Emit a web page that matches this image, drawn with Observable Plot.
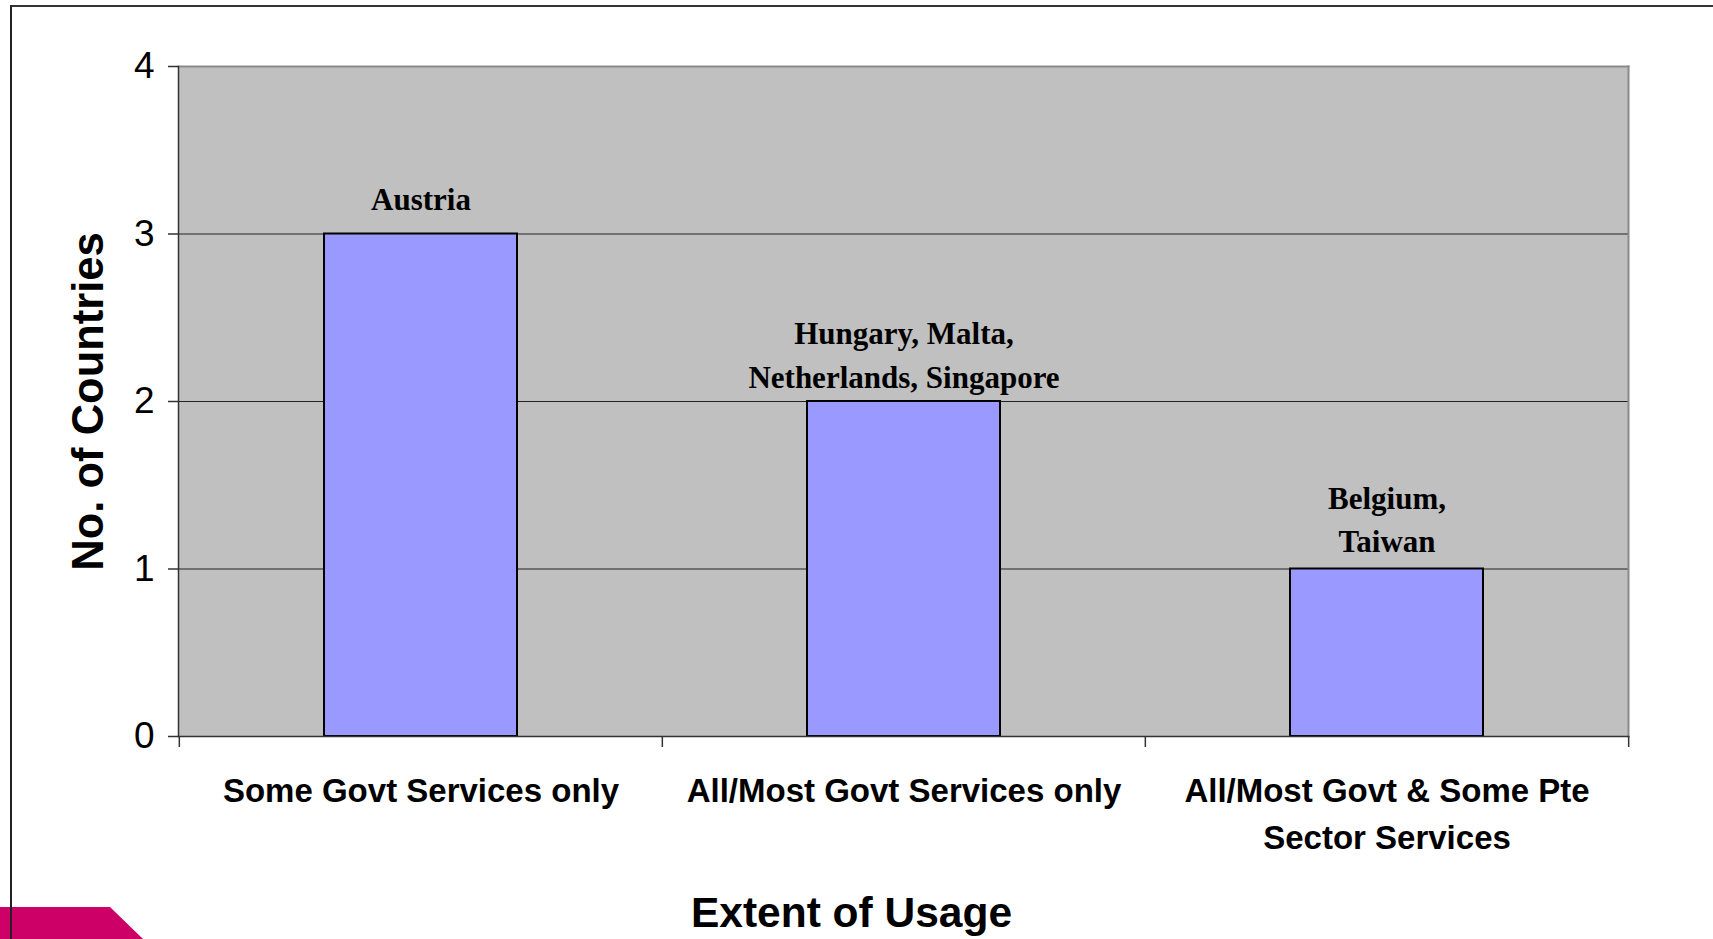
<!DOCTYPE html>
<html>
<head>
<meta charset="utf-8">
<script src="https://cdn.jsdelivr.net/npm/d3@7"></script>
<script src="https://cdn.jsdelivr.net/npm/@observablehq/plot@0.6"></script>
<style>
  html, body { margin: 0; padding: 0; background: #ffffff; overflow: hidden; }
  #wrap { position: relative; width: 1713px; height: 939px; overflow: hidden; }
  #chart { position: absolute; left: 0; top: 0; }
  #accent { position: absolute; left: 0; top: 907px; width: 143px; height: 32px; background: #CC0066;
            clip-path: polygon(0 0, 110px 0, 143px 32px, 0 32px); }
  #slideframe { position: absolute; left: 10px; top: 5px; width: 1760px; height: 1000px;
                border-top: 2px solid #333; border-left: 2px solid #222; }
</style>
</head>
<body>
<div id="wrap">
  <div id="chart"></div>
  <div id="accent"></div>
  <div id="slideframe"></div>
</div>
<script>
// ---- data ----
const categories = [
  "Some Govt Services only",
  "All/Most Govt Services only",
  "All/Most Govt & Some Pte Sector Services"
];
const tickLabels = [
  "Some Govt Services only",
  "All/Most Govt Services only",
  "All/Most Govt & Some Pte\nSector Services"
];
const counts = [3, 2, 1];
const countryLabels = [
  "Austria",
  "Hungary, Malta,\nNetherlands, Singapore",
  "Belgium,\nTaiwan"
];
const yTicks = [0, 1, 2, 3, 4];
const gridValues = [1, 2, 3];
const xTitle = "Extent of Usage";
const yTitle = "No. of Countries";

const data = categories.map((c, i) => ({category: c, count: counts[i], label: countryLabels[i]}));

// ---- layout ----
const W = 1713, H = 939;
const mL = 178, mT = 66, mR = 85, mB = 203;
const bw = (W - mL - mR) / categories.length;
const sans = "'Liberation Sans', Arial, Helvetica, sans-serif";
const serif = "'Liberation Serif', 'Times New Roman', Times, serif";

const labelText = (d, dy) => Plot.text([d], {
  x: "category", y: "count", text: "label",
  lineAnchor: "bottom", dy,
  fontFamily: serif, fontWeight: "bold", fontSize: 31, lineHeight: 1.39, fill: "#000"
});

const chart = Plot.plot({
  width: W, height: H,
  marginLeft: mL, marginTop: mT, marginRight: mR, marginBottom: mB,
  style: {fontFamily: sans, background: "transparent", color: "#000", overflow: "visible"},
  x: {domain: categories, padding: 0, axis: null},
  y: {domain: [0, 4], axis: null},
  marks: [
    Plot.frame({fill: "#C0C0C0", stroke: null}),
    Plot.ruleY(gridValues, {stroke: "#222", strokeWidth: 1}),
    Plot.barY(data, {x: "category", y: "count", fill: "#9999FF", stroke: "#000", strokeWidth: 2,
                     insetLeft: bw * 0.3, insetRight: bw * 0.3}),
    labelText(data[0], -24),
    labelText(data[1], -14),
    labelText(data[2], -17),
    Plot.frame({anchor: "top", stroke: "#8a8a8a", strokeWidth: 2}),
    Plot.frame({anchor: "right", stroke: "#8a8a8a", strokeWidth: 2}),
    Plot.frame({anchor: "left", stroke: "#333", strokeWidth: 1.5}),
    Plot.frame({anchor: "bottom", stroke: "#333", strokeWidth: 1.5}),
    // category boundary ticks below the x axis
    Plot.ruleX(categories, {x: d => d, dx: -bw / 2, stroke: "#333", strokeWidth: 1.5, insetTop: H - mT - mB, insetBottom: -11}),
    Plot.ruleX([categories[categories.length - 1]], {x: d => d, dx: bw / 2, stroke: "#333", strokeWidth: 1.5, insetTop: H - mT - mB, insetBottom: -11}),
    Plot.axisY({ticks: yTicks, tickSize: 10, tickPadding: 14, fontSize: 37, stroke: "#333", strokeWidth: 1.5, fill: "#000", label: null, tickFormat: d => String(d)}),
    Plot.axisX({tickSize: 0, tickPadding: 32, fontSize: 33, fontWeight: "bold", lineHeight: 47 / 33, fill: "#000", label: null,
                tickFormat: d => tickLabels[categories.indexOf(d)]}),
    Plot.text([xTitle], {frameAnchor: "bottom", textAnchor: "middle", lineAnchor: "middle", dy: 177, dx: -52,
                         fontSize: 42.5, fontWeight: "bold", fill: "#000"}),
    Plot.text([yTitle], {frameAnchor: "left", textAnchor: "middle", lineAnchor: "middle", dx: -89, rotate: -90,
                         fontSize: 43.5, fontWeight: "bold", fill: "#000"})
  ]
});
document.getElementById("chart").appendChild(chart);
</script>
</body>
</html>
